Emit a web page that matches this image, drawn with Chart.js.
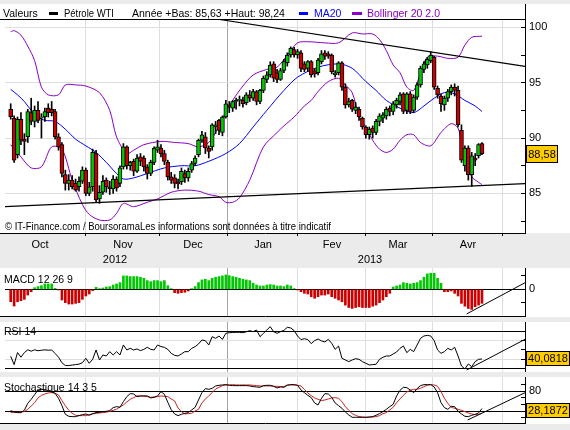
<!DOCTYPE html>
<html><head><meta charset="utf-8">
<script src="https://cdn.jsdelivr.net/npm/chart.js@4.4.1/dist/chart.umd.min.js"></script>
<style>
html,body{margin:0;padding:0;background:#ebebeb;}
body{width:570px;height:430px;position:relative;overflow:hidden}
canvas{position:absolute;left:0;display:block}
</style></head><body>
<canvas id="main" width="570" height="268" style="top:0px"></canvas>
<canvas id="macd" width="570" height="49" style="top:268px"></canvas>
<canvas id="rsi" width="570" height="50" style="top:322px"></canvas>
<canvas id="stoch" width="570" height="47" style="top:377px"></canvas>
<script>
// ---------------- DATA ----------------
const opens = [92.6,91.8,88.5,91.7,89.9,90.1,92.3,91.5,92.5,91.8,91.9,92.7,92.6,92.4,90.1,89.4,86.7,85.9,86.2,85.9,
85.6,86.1,87.1,85.0,85.6,88.6,84.5,85.1,86.2,85.6,85.4,86.3,85.9,87.4,89.2,87.5,87.9,87.0,88.3,88.2,
87.4,86.8,87.8,88.9,89.1,88.6,87.8,86.5,86.4,86.0,86.05,86.8,86.4,87.1,87.7,88.5,89.8,90.1,89.1,89.2,
91.0,91.6,90.5,91.9,93.0,92.7,93.3,93.4,93.4,93.2,93.9,93.6,94.2,93.3,94.3,95.3,95.7,96.7,95.9,95.3,
96.1,96.8,97.5,98.0,97.5,97.7,96.7,96.3,96.9,96.1,95.9,96.9,97.7,97.6,97.5,95.7,95.9,96.8,94.6,93.0,
93.4,92.5,92.6,91.8,91.0,90.3,90.9,90.5,91.5,91.8,92.0,92.7,92.4,93.0,93.3,94.0,92.5,94.0,92.5,93.7,
94.8,96.2,96.6,97.0,97.3,94.5,93.8,93.0,93.6,94.2,94.6,94.3,90.7,87.5,89.1,86.7,88.2,88.4,89.5];
const highs = [93.1,92.0,91.9,92.3,90.4,92.6,93.6,92.9,93.3,92.2,92.7,93.1,93.3,92.6,90.4,89.6,87.1,86.7,86.6,86.3,
86.5,87.4,87.3,86.0,89.0,88.9,85.7,86.6,86.4,86.1,86.6,86.5,87.5,89.5,89.3,87.9,88.1,88.5,88.6,88.4,
87.6,88.0,89.2,89.8,89.4,88.9,88.0,86.9,86.7,86.3,87.3,87.1,87.3,87.9,88.4,89.9,90.6,90.5,89.3,91.3,
91.5,91.7,92.0,93.4,93.3,93.4,93.6,93.8,93.7,94.1,94.3,94.4,94.3,94.4,95.6,96.0,96.9,96.9,96.2,96.3,
97.1,97.7,98.24,98.2,98.0,97.9,96.9,97.0,97.0,96.3,97.2,97.9,97.9,97.8,97.6,96.1,96.9,96.9,94.9,93.6,
93.5,93.2,92.8,91.9,91.1,91.0,91.1,91.7,92.2,92.3,92.8,92.9,93.3,93.6,94.1,94.1,94.1,94.2,93.9,95.0,
96.5,96.9,97.3,97.8,97.4,94.7,94.0,93.8,94.4,94.8,94.9,94.7,91.2,89.3,89.3,88.7,88.6,89.5,89.6];
const lows = [91.7,87.8,88.2,89.4,88.5,89.6,91.2,91.0,91.4,90.0,91.5,91.9,92.0,89.9,88.9,86.5,85.3,85.3,85.4,85.2,
85.2,85.9,84.8,84.8,85.2,84.2,84.1,84.9,85.1,84.9,85.0,85.2,85.6,87.2,87.2,87.1,86.6,86.9,87.5,87.0,
86.3,86.6,87.6,88.7,88.3,87.6,86.2,85.9,85.5,85.4,85.8,86.0,86.1,86.9,87.5,88.3,89.6,88.6,88.2,88.9,
90.4,90.3,90.2,91.8,92.3,92.4,92.6,92.9,92.8,93.0,93.3,93.4,93.0,93.1,94.1,95.0,95.5,95.1,95.0,95.2,
95.9,96.5,97.3,97.3,97.2,96.0,96.0,96.0,95.5,95.5,95.7,96.7,97.1,97.2,95.8,95.5,95.7,94.3,92.7,92.8,
92.4,92.2,91.6,90.8,90.0,89.9,90.0,90.3,91.1,91.4,91.7,92.0,92.1,92.7,93.0,92.2,92.2,92.2,92.3,93.5,
94.6,95.9,96.3,96.8,94.4,93.6,92.4,92.5,93.3,93.9,93.8,91.0,87.8,87.0,86.2,85.63,87.5,88.2,88.5];
const closes = [91.9,88.0,91.7,89.8,89.7,92.4,91.5,92.5,91.6,91.9,92.4,92.3,92.3,90.1,89.2,86.8,85.9,86.2,85.6,85.3,
86.1,87.1,85.0,85.6,88.7,84.4,85.1,86.1,85.6,85.4,86.3,85.5,87.3,89.2,87.5,87.8,87.0,88.2,87.9,87.4,
86.8,87.8,89.1,89.2,88.6,87.9,86.5,86.2,85.9,85.85,87.0,86.4,87.0,87.7,88.2,89.8,90.3,89.1,88.8,91.2,
91.2,90.7,91.9,93.1,92.8,93.3,93.4,93.5,93.1,93.9,93.6,94.2,93.3,94.3,95.4,95.7,96.6,95.4,95.3,96.1,
96.9,97.5,98.1,97.5,97.8,96.3,96.2,96.9,95.7,95.8,97.05,97.6,97.4,97.4,96.0,95.9,96.8,94.6,93.0,93.3,
92.6,92.8,91.9,91.0,90.3,90.8,90.5,91.5,92.0,92.1,92.6,92.4,93.1,93.4,93.9,92.4,94.0,92.4,93.7,94.8,
96.3,96.7,97.1,97.5,94.6,93.9,93.1,93.6,94.2,94.6,94.3,91.2,88.0,89.1,86.7,88.4,88.0,89.4,88.58];

// MA20 and Bollinger(20,2) read at sampled candles: [candle index, value]
const ma20Idx = [0,2,4,6,8,10,13,16,19,22,25,28,31,33,36,40,45,50,54,58,63,67,71,75,80,84,90,96,100,104,107,110,114,118,121,124,127,130,133,136,138];
const ma20Val = [94.4,93.9,93.3,92.5,91.9,91.6,91.5,90.8,89.9,89.3,88.7,87.8,86.8,86.3,86.4,86.8,87.3,87.5,87.5,87.9,88.6,89.5,91.0,92.5,94.3,95.5,96.4,96.7,96.3,95.1,94.3,93.4,92.7,92.3,92.9,93.6,94.1,94.0,93.4,92.9,92.4];
const bbUpIdx = [0,1,3,5,7,9,11,14,16,19,22,26,29,31,34,36,39,44,48,52,55,58,60,62,65,68,71,75,78,81,84,87,92,96,100,103,106,108,110,112,114,116,118,120,122,125,128,131,133,135,138];
const bbUpVal = [99.6,99.7,99.3,98.3,97.0,94.6,93.9,93.9,94.8,94.8,94.7,94.1,92.5,90.1,88.6,88.9,89.4,89.7,89.6,89.5,89.2,89.6,90.5,91.8,93.4,94.7,95.7,96.2,96.4,97.5,98.6,98.7,98.6,98.6,99.5,99.4,99.4,98.9,97.9,96.6,95.9,94.6,94.3,95.9,97.3,97.4,97.2,97.3,98.4,99.1,99.2];
const bbLoIdx = [0,3,6,9,12,15,18,21,23,26,29,31,33,36,40,43,47,51,55,58,61,63,65,67,70,74,78,80,83,86,88,90,93,96,98,100,102,104,106,108,110,112,114,116,118,120,123,126,129,131,132,134,135,137,138];
const bbLoVal = [89.4,88.3,87.3,87.4,89.2,89.0,86.2,84.0,83.1,82.6,82.6,83.2,84.1,83.8,84.2,84.5,85.1,85.3,85.2,84.9,84.7,84.2,84.2,84.6,86.2,89.2,90.5,91.1,91.9,92.9,93.4,94.2,95.1,95.4,94.8,94.1,92.0,91.0,89.8,89.0,88.7,89.0,89.8,90.3,90.3,89.6,89.3,90.5,91.3,90.9,89.5,87.4,86.5,86.0,85.8];

const macdHist = [-0.93,-1.25,-0.93,-0.85,-0.75,-0.43,-0.18,0.12,0.2,0.27,0.4,0.4,0.4,0.07,-0.05,-0.8,-1.0,-1.1,-1.1,-1.05,
-1.0,-0.75,-0.5,-0.35,-0.1,0.15,0.05,0.1,0.17,0.2,0.32,0.4,0.5,1.0,1.0,0.95,0.95,0.95,0.9,0.82,
0.65,0.57,0.65,0.65,0.57,0.65,0.27,0.05,-0.25,-0.3,-0.25,-0.22,-0.12,0.05,0.2,0.5,0.7,0.75,0.65,0.82,
0.9,0.95,1.0,1.07,1.02,0.95,0.9,0.82,0.75,0.7,0.65,0.45,0.32,0.25,0.25,0.32,0.35,0.32,0.25,0.25,
0.2,0.32,0.25,0.05,-0.05,-0.18,-0.3,-0.35,-0.55,-0.67,-0.55,-0.43,-0.43,-0.35,-0.55,-0.67,-0.8,-0.93,-1.18,-1.36,
-1.43,-1.36,-1.3,-1.36,-1.36,-1.36,-1.26,-1.18,-1.0,-0.8,-0.55,-0.3,0.17,0.25,0.32,0.5,0.45,0.4,0.45,0.5,
0.65,0.9,1.15,1.2,1.2,0.82,0.45,-0.18,-0.18,-0.12,-0.3,-0.5,-1.05,-1.26,-1.43,-1.5,-1.3,-1.18,-1.05];
const rsi14 = [43,34,47,42,47,50,48.5,50,49,49.5,50,49.5,49.8,46,42,36,33,33,33.5,34,
34.5,36,40.8,35.4,39.7,49.8,39,44.4,43.3,48,44.4,48,44.4,55.2,49.8,51.6,49.8,50.9,49.1,50.5,
52.7,50.5,49.8,55.2,53.5,52.7,50.5,46.2,44,43.3,45.5,48,48,51.6,53.4,56.3,60.6,59.9,55.2,64.2,
62.4,64.9,61.3,67.8,68.5,68.7,68.9,68.8,68.5,69.5,70.7,69.6,71.4,64.2,67.8,71.4,75,69.6,67.8,69.6,
71,74.3,73.6,70.7,64.9,61,62,61,56.7,59.9,61.7,59.6,58.5,61.3,57,50.5,54.1,40.8,39,37.2,
39,40.4,39.7,37.2,35.4,33.6,34,34.3,39.7,41.9,43.3,43.3,45.5,47.6,51.6,54.1,46.9,50.5,48,55.2,
62.4,64.9,65.6,64.9,59.9,49.8,46.2,48,51.6,49.8,52.7,43.3,32.5,29.3,34.7,31.8,37.2,39.7,40.08];
const stochK = [22,18,16,16,23,44,56,70,84,86,85,82,79,74,59,37,11,5,4,4,
7,10,12,8,13,16,17,19,20,22,31,34,32,49,64,73,72,64,66,66,
66,60,62,66,79,71,47,25,12,7,11,14,16,24,32,54,76,88,86,89,
96,98,99,100,98,97,97,97,97,97,96,94,93,92,97,98,98,95,90,93,
92,98,100,100,98,84,76,68,61,45,39,59,73,72,62,45,37,29,18,9,
2,2,2,2,2,3,4,8,13,19,26,34,41,66,83,92,91,84,76,88,
97,100,100,100,93,76,46,31,26,35,34,20,12,5,4,8,11,15,28.19];
const stochD = [16,17,17,18,19,26,36,46,60,68,72,75,76,74,69,52,37,23,14,8,
7,7,7,10,12,14,15,16,17,20,23,26,33,39,48,56,61,66,66,66,
64,62,63,64,66,65,64,57,51,30,19,12,13,14,21,26,45,57,66,76,
87,92,97,99,99,100,99,99,99,99,99,98,97,96,96,96,96,95,95,94,
94,99,99,99,98,96,86,75,67,60,56,52,54,57,60,61,59,49,34,23,
13,8,4,3,2,2,3,4,7,13,16,24,32,46,57,68,78,83,86,86,
89,94,98,100,99,95,79,59,44,32,29,26,23,19,15,12,10,11,14];

// hand-drawn trend lines, as [candle index, value] end points
const trendMain1 = [[60.7,100.73],[150.6,96.47]];
const trendMain2 = [[-1.67,83.81],[150.6,85.89]];
const trendMacd = [[133.5,-1.84],[150.6,0.49]];
const trendRsi = [[133.5,28.2],[150.6,61.3]];
const trendStoch = [[133.8,-6.1],[150.6,75.8]];

// axis / legend text
const monthNames = ['Oct','Nov','Dec','Jan','Fev','Mar','Avr'];
const yearNames = ['2012','2013'];
const priceTicks = [82.5,85,87.5,90,92.5,95,97.5,100];
const lastPriceText = '88,58', lastRsiText = '40,0818', lastStochText = '28,1872';

// ---------------- LAYOUT / STYLE ----------------
const FONT = "'Liberation Sans', Arial, sans-serif";
Chart.defaults.font.family = FONT;
Chart.defaults.font.size = 11;
Chart.defaults.color = '#000';
const GREEN = '#00c800', RED = '#cc0000', BLUE = '#0000ff', PURPLE = '#8a00c8';
const X_MIN = -1.669, X_MAX = 150.6, PLOT_LEFT = 5, AXIS_W = 45;
const monthBounds = [21.76, 43.43, 63.34, 83.84, 103.75, 123.65, 144.15];
const yearBoundIndex = 2;
const monthLabelPos = [8.58, 32.88, 53.38, 73.88, 94.09, 113.41, 133.91];
const yearLabelPos = [30.54, 105.21];

function xAxis(o) {
  const t = monthBounds.map((v, i) => ({v, label: '', bound: true, year: i === yearBoundIndex}));
  if (o.labels) {
    monthLabelPos.forEach((v, i) => t.push({v, label: monthNames[i], bound: false}));
    yearLabelPos.forEach((v, i) => t.push({v, label: ['', yearNames[i]], bound: false}));
  }
  t.sort((a, b) => a.v - b.v);
  return {
    type: 'linear', min: X_MIN, max: X_MAX, offset: false, position: 'bottom',
    afterBuildTicks: s => { s.ticks = t.map(k => ({value: k.v})); },
    afterFit: s => { s.height = o.height; s.paddingLeft = 0; s.paddingRight = 0; s.paddingTop = 0; s.paddingBottom = 0; },
    grid: {
      offset: false, drawOnChartArea: true, drawTicks: !!o.labels, tickLength: 3, lineWidth: 1,
      color: c => { const k = t[c.index]; return (!k || !k.bound) ? 'rgba(0,0,0,0)' : (k.year ? '#a4a4a4' : '#dedede'); },
      tickColor: c => { const k = t[c.index]; return (k && k.bound) ? '#000' : 'rgba(0,0,0,0)'; }
    },
    border: {display: o.border, color: '#000', width: 1},
    ticks: {display: !!o.labels, autoSkip: false, maxRotation: 0, minRotation: 0, padding: 1.5,
      font: {size: 11, lineHeight: 15 / 11}, color: '#000',
      callback: (v, i) => t[i] ? t[i].label : ''}
  };
}
function yAxis(o) {
  return {
    type: 'linear', position: 'right', min: o.min, max: o.max,
    afterBuildTicks: s => { s.ticks = o.ticks.map(v => ({value: v})); },
    afterFit: s => { s.width = AXIS_W; s.paddingTop = 0; s.paddingBottom = 0; s.paddingLeft = 0; s.paddingRight = 0; },
    grid: {drawTicks: false, lineWidth: 1, color: c => o.grid(c.tick ? c.tick.value : null)},
    border: {display: true, color: '#000', width: 1},
    ticks: {padding: 4, autoSkip: false, color: '#000', font: {size: 11}, callback: v => o.label(v)}
  };
}
function valueBox(ctx, text, yc, w, h) {
  const top = Math.round(yc - h / 2), x0 = 526;
  ctx.fillStyle = '#ffcc00'; ctx.fillRect(x0, top, w, h);
  ctx.strokeStyle = '#000'; ctx.lineWidth = 1; ctx.strokeRect(x0 + 0.5, top + 0.5, w - 1, h - 1);
  ctx.fillStyle = '#000'; ctx.font = '11px ' + FONT; ctx.textAlign = 'center'; ctx.textBaseline = 'middle';
  ctx.fillText(text, x0 + w / 2, top + h / 2 + 0.5);
}
// text item: draw with a max width (reference glyphs are slightly condensed)
function txt(ctx, s, x, y, maxW) { ctx.fillText(s, x, y, maxW); }
function panelPlugin(p) {
  return {
    id: 'panel',
    beforeDraw(chart) {
      const ctx = chart.ctx; ctx.save();
      ctx.fillStyle = '#ebebeb'; ctx.fillRect(0, 0, chart.width, chart.height);
      ctx.fillStyle = '#ffffff'; ctx.fillRect(0, p.whiteTop, chart.width, p.whiteBottom - p.whiteTop);
      ctx.restore();
    },
    afterDraw(chart) {
      const ctx = chart.ctx, ca = chart.chartArea, ys = chart.scales.y;
      ctx.save();
      ctx.fillStyle = '#000';
      ys.ticks.forEach(k => { const y = Math.floor(ys.getPixelForValue(k.value)); ctx.fillRect(ca.right - 4, y, 4, 1); });
      ctx.textAlign = 'left'; ctx.textBaseline = 'alphabetic'; ctx.font = '10.5px ' + FONT;
      p.after(chart, ctx, ca, ys);
      ctx.restore();
    }
  };
}
const pts = (ix, vals) => ix.map((x, k) => ({x, y: vals[k]}));
const seg = a => a.map(([x, y]) => ({x, y}));
const lineDs = (data, color, order, extra) => Object.assign({type: 'line', data, borderColor: color, borderWidth: 1,
  pointRadius: 0, tension: 0.3, fill: false, order}, extra || {});

function makeChart(id, cfg) {
  return new Chart(document.getElementById(id), {
    type: 'bar',
    data: {datasets: cfg.datasets},
    options: {
      responsive: false, animation: false, devicePixelRatio: 1, events: [],
      layout: {padding: {left: PLOT_LEFT, right: 0, top: cfg.padTop, bottom: 0}},
      plugins: {legend: {display: false}, tooltip: {enabled: false}},
      scales: {x: xAxis(cfg.x), y: yAxis(cfg.y)}
    },
    plugins: [panelPlugin(cfg.panel)]
  });
}

// ---------------- MAIN PRICE PANEL ----------------
const idx = closes.map((_, i) => i);
makeChart('main', {
  padTop: 19,
  x: {labels: true, height: 35, border: true},
  y: {min: 81.423, max: 100.754, ticks: priceTicks,
      grid: v => (v !== null && v % 5 === 0) ? '#dedede' : 'rgba(0,0,0,0)',
      label: v => v % 5 === 0 ? String(v) : ''},
  datasets: [
    lineDs(pts(bbUpIdx, bbUpVal), PURPLE, 6),
    lineDs(pts(bbLoIdx, bbLoVal), PURPLE, 6),
    lineDs(pts(ma20Idx, ma20Val), BLUE, 5),
    {type: 'bar', data: idx.map(i => ({x: i, y: [lows[i], highs[i]]})), backgroundColor: '#000',
     barThickness: 1, grouped: false, order: 3},
    {type: 'bar', data: idx.map(i => ({x: i, y: [Math.min(opens[i], closes[i]), Math.max(opens[i], closes[i])]})),
     backgroundColor: idx.map(i => closes[i] >= opens[i] ? GREEN : RED), borderColor: '#000', borderWidth: 1,
     borderSkipped: false, barThickness: 4, minBarLength: 1, grouped: false, order: 2},
    lineDs(seg(trendMain1), '#000', 1, {tension: 0, borderWidth: 1.2}),
    lineDs(seg(trendMain2), '#000', 1, {tension: 0, borderWidth: 1.2})
  ],
  panel: {whiteTop: 4, whiteBottom: 233, after: (chart, ctx, ca, ys) => {
    ctx.fillStyle = '#000';
    ctx.fillRect(0, 19, 525, 1);         // top frame line
    ctx.fillRect(525, 4, 1, 15);         // right frame above plot
    ctx.fillRect(0, 233, 5, 1);          // bottom frame left stub
    txt(ctx, 'Valeurs', 3, 17, 36);
    ctx.fillRect(49, 12, 9, 3);
    txt(ctx, 'Pétrole WTI', 64, 17, 50);
    txt(ctx, 'Année +Bas: 85,63 +Haut: 98,24', 132, 17, 154);
    ctx.fillStyle = BLUE; ctx.fillRect(299, 12, 9, 3); txt(ctx, 'MA20', 314, 17, 28);
    ctx.fillStyle = PURPLE; ctx.fillRect(352, 12, 10, 3); txt(ctx, 'Bollinger 20 2.0', 367, 17, 76);
    ctx.fillStyle = '#000';
    txt(ctx, '© IT-Finance.com / BoursoramaLes informations sont données à titre indicatif', 5, 230, 326);
    valueBox(ctx, lastPriceText, ys.getPixelForValue(closes[closes.length - 1]), 32, 18);
  }}
});

// ---------------- MACD ----------------
makeChart('macd', {
  padTop: 0,
  x: {labels: false, height: 1, border: true},
  y: {min: -1.993, max: 1.59, ticks: [-1, 0, 1],
      grid: v => v === 0 ? '#000' : 'rgba(0,0,0,0)', label: v => v === 0 ? '0' : ''},
  datasets: [
    {type: 'bar', data: idx.map(i => ({x: i, y: macdHist[i]})),
     backgroundColor: idx.map(i => macdHist[i] >= 0 ? GREEN : RED), barThickness: 2, grouped: false, order: 2},
    lineDs(seg(trendMacd), '#000', 1, {tension: 0})
  ],
  panel: {whiteTop: 0, whiteBottom: 49, after: (chart, ctx) => {
    ctx.fillRect(0, 48, 5, 1);
    txt(ctx, 'MACD 12 26 9', 4, 15, 69);
  }}
});

// ---------------- RSI ----------------
makeChart('rsi', {
  padTop: 0,
  x: {labels: false, height: 0, border: false},
  y: {min: 26.0, max: 80.05, ticks: [30, 40, 50, 60, 70],
      grid: v => (v === 30 || v === 70) ? '#000' : ((v === 40 || v === 60) ? '#dedede' : 'rgba(0,0,0,0)'),
      label: v => ''},
  datasets: [
    lineDs(idx.map(i => ({x: i, y: rsi14[i]})), '#000', 2, {tension: 0}),
    lineDs(seg(trendRsi), '#000', 1, {tension: 0})
  ],
  panel: {whiteTop: 0, whiteBottom: 50, after: (chart, ctx, ca, ys) => {
    txt(ctx, 'RSI 14', 4, 13, 36);
    valueBox(ctx, lastRsiText, ys.getPixelForValue(rsi14[rsi14.length - 1]), 44, 15);
  }}
});

// ---------------- STOCHASTIC ----------------
makeChart('stoch', {
  padTop: 0,
  x: {labels: false, height: 1, border: true},
  y: {min: -15.1, max: 122.9, ticks: [0, 20, 40, 60, 80, 100],
      grid: v => (v === 20 || v === 80) ? '#000' : 'rgba(0,0,0,0)', label: v => v === 80 ? '80' : ''},
  datasets: [
    lineDs(idx.map(i => ({x: i, y: stochD[i]})), '#cc2222', 3, {tension: 0}),
    lineDs(idx.map(i => ({x: i, y: stochK[i]})), '#000', 2, {tension: 0}),
    lineDs(seg(trendStoch), '#000', 1, {tension: 0})
  ],
  panel: {whiteTop: 0, whiteBottom: 47, after: (chart, ctx, ca, ys) => {
    ctx.fillRect(0, 46, 5, 1);
    txt(ctx, 'Stochastique 14 3 5', 4, 14, 94);
    valueBox(ctx, lastStochText, ys.getPixelForValue(stochK[stochK.length - 1]) + 2, 44, 15);
  }}
});
</script>
</body></html>
